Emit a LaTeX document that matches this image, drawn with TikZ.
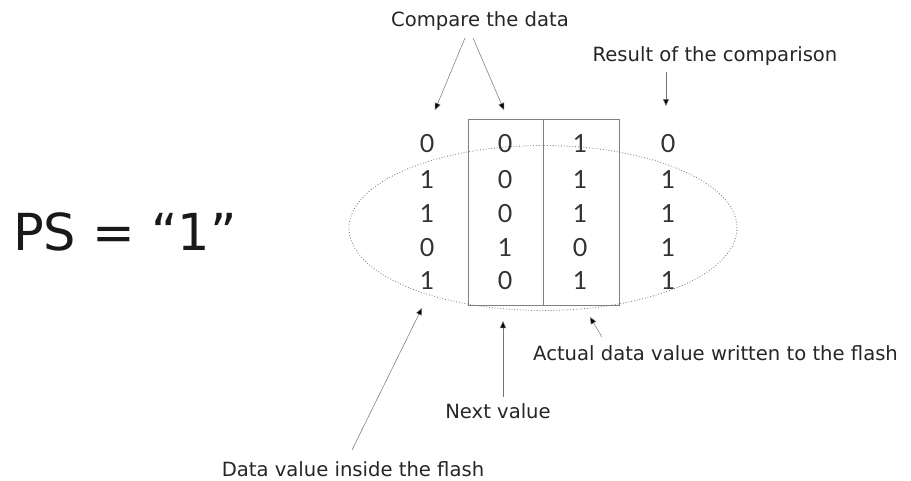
\documentclass[tikz,border=0pt]{standalone}
\usepackage{fontspec}
\setmainfont{DejaVu Sans}
\newfontfamily\digitfont{Lato}
\usetikzlibrary{arrows.meta,shapes.geometric}
\begin{document}
\begin{tikzpicture}[x=1pt,y=-1pt,
  lbl/.style={inner sep=0pt,font=\fontsize{19.6}{22}\selectfont,text=black!85},
  dig/.style={inner sep=0pt,font=\digitfont\fontsize{25}{26}\selectfont,text=black!80},
  ptr/.style={draw=black!55,line width=0.5pt,-{Triangle[length=7pt,width=6pt,fill=black]}},
  colbox/.style={draw=black!50,line width=0.6pt}]
\useasboundingbox[fill=white] (0,0) rectangle (911,480);
% ellipse
\node[draw=black!55,dotted,line width=0.8pt,ellipse,minimum width=388pt,minimum height=165pt,inner sep=0pt] (ell) at (543,228) {};
% boxes
\node[colbox,minimum width=75pt,minimum height=186pt,inner sep=0pt,anchor=north west] (boxA) at (468,119) {};
\node[colbox,minimum width=76pt,minimum height=186pt,inner sep=0pt,anchor=north west] (boxB) at (543,119) {};
% digits
\node[dig] (a1) at (427,144) {0};
\node[dig] (a2) at (427,180) {1};
\node[dig] (a3) at (427,214) {1};
\node[dig] (a4) at (427,248) {0};
\node[dig] (a5) at (427,281) {1};
\node[dig] (b1) at (505,144) {0};
\node[dig] (b2) at (505,180) {0};
\node[dig] (b3) at (505,214) {0};
\node[dig] (b4) at (505,248) {1};
\node[dig] (b5) at (505,281) {0};
\node[dig] (c1) at (580,144) {1};
\node[dig] (c2) at (580,180) {1};
\node[dig] (c3) at (580,214) {1};
\node[dig] (c4) at (580,248) {0};
\node[dig] (c5) at (580,281) {1};
\node[dig] (d1) at (668,144) {0};
\node[dig] (d2) at (668,180) {1};
\node[dig] (d3) at (668,214) {1};
\node[dig] (d4) at (668,248) {1};
\node[dig] (d5) at (668,281) {1};
% labels
\node[lbl] (cmp) at (480,21) {Compare the data};
\node[lbl] (res) at (715,56) {Result of the comparison};
\node[lbl,anchor=west] (act) at (533,353) {Actual data value written to the flash};
\node[lbl] (nxt) at (498,411) {Next value};
\node[lbl] (div) at (353,469) {Data value inside the flash};
\node[inner sep=0pt,font=\fontsize{51}{56}\selectfont,text=black!90,anchor=west] (ps) at (13,232) {PS = “1”};
% pointer anchors
\coordinate (cmpA) at (465,38);
\coordinate (cmpB) at (473,38);
\coordinate (tA) at (435,110);
\coordinate (tB) at (504,110);
\coordinate (resS) at (666,72);
\coordinate (tR) at (666,106);
\coordinate (divS) at (352,450);
\coordinate (tD) at (422,308);
\coordinate (nxtS) at (503,397);
\coordinate (tN) at (503,321);
\coordinate (actS) at (602,337);
\coordinate (tAc) at (590,317);
\draw[ptr] (cmpA) -- (tA);
\draw[ptr] (cmpB) -- (tB);
\draw[ptr] (resS) -- (tR);
\draw[ptr] (divS) -- (tD);
\draw[ptr] (nxtS) -- (tN);
\draw[ptr] (actS) -- (tAc);
\end{tikzpicture}
\end{document}
